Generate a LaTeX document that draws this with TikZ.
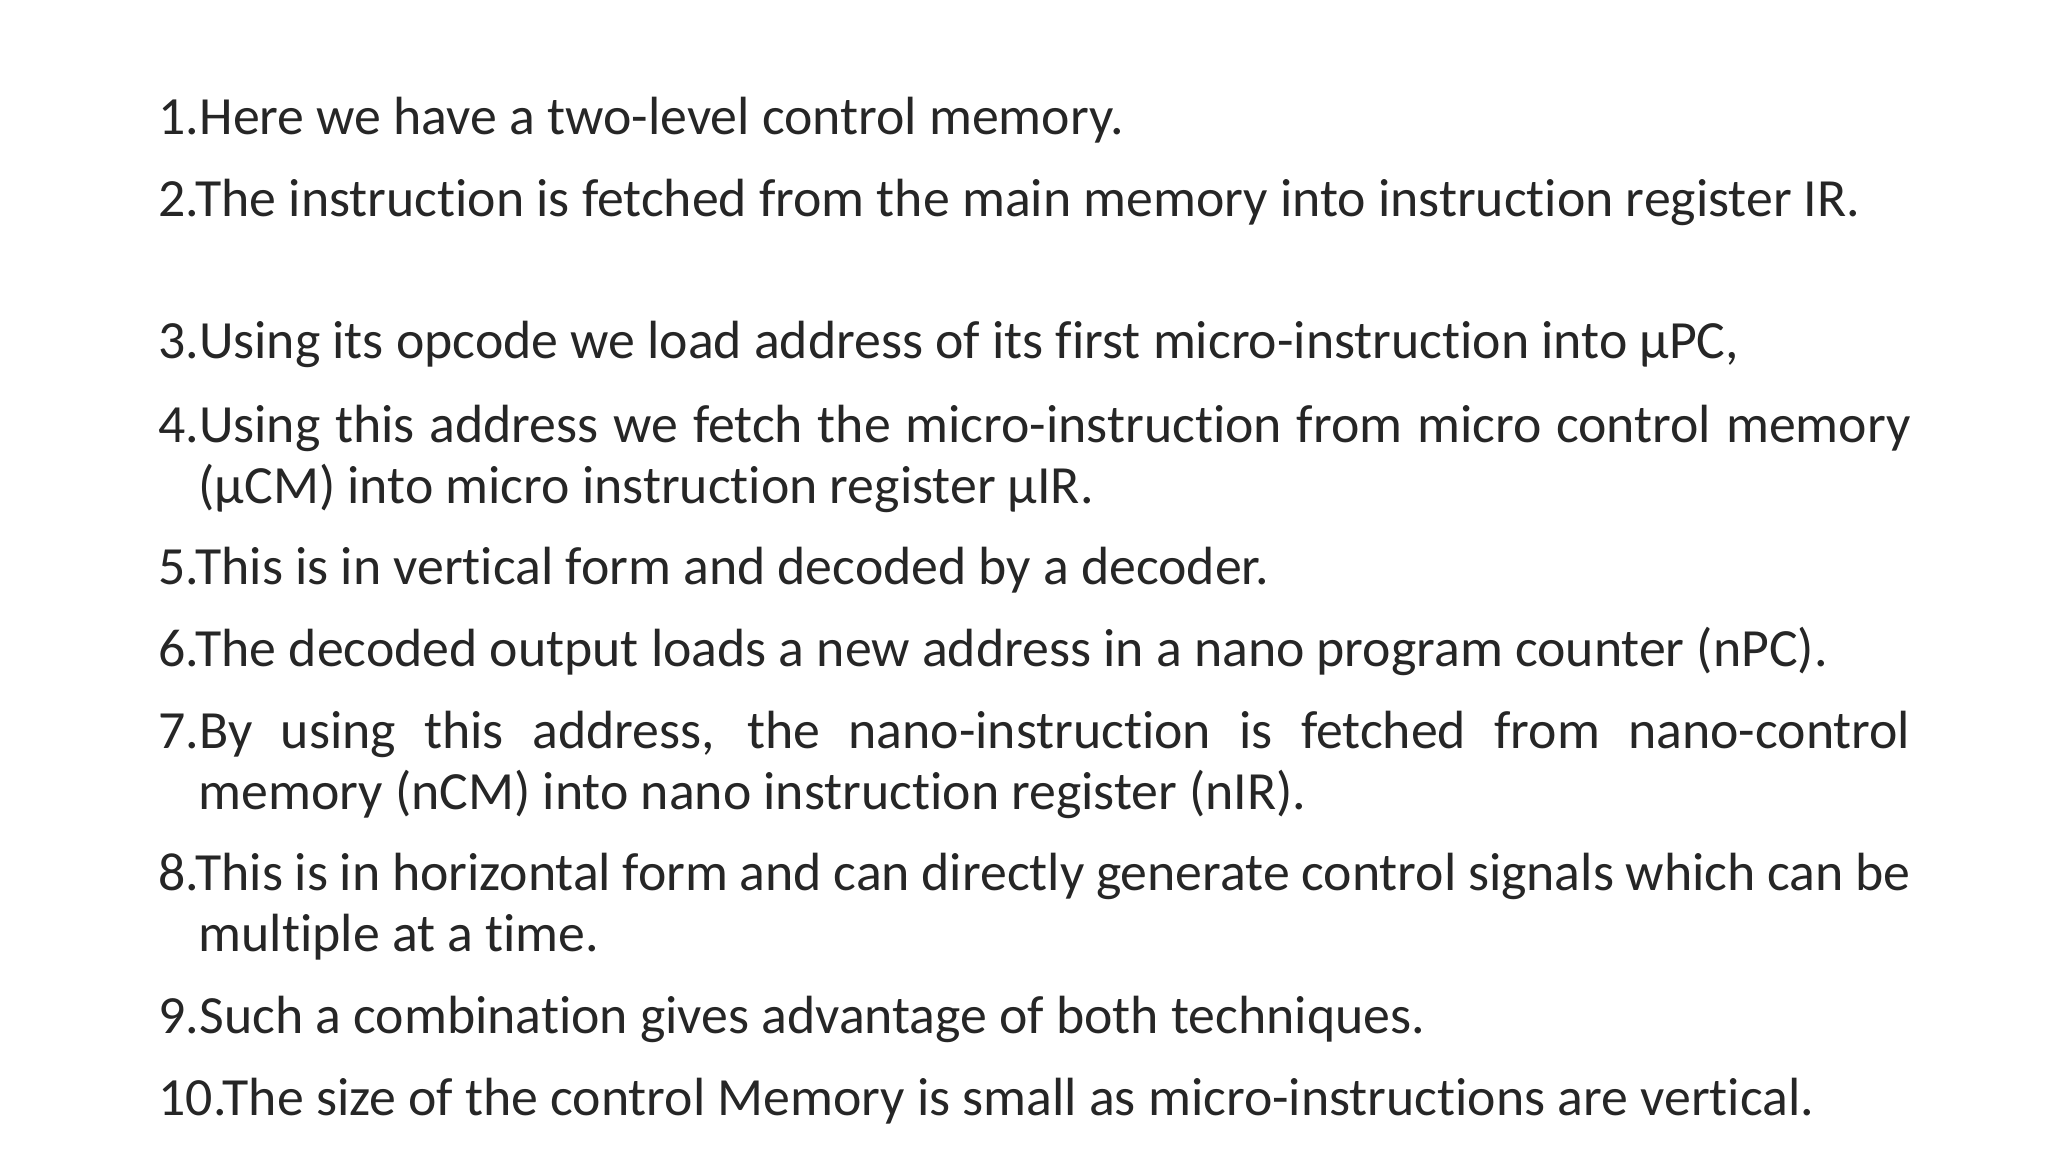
\documentclass[tikz,border=0pt]{standalone}
\usepackage{fontspec}
\setmainfont{Carlito}[Ligatures={NoCommon}]
\begin{document}
\begin{tikzpicture}[x=1cm,y=1cm,
  item/.style={anchor=north west,inner sep=0pt,font=\fontsize{15.3}{17.3}\selectfont,text=black!85}]
\useasboundingbox[fill=white] (0,0) rectangle (20.48,11.52);
\newcommand{\hi}[1]{\parbox[t]{17.52cm}{\hyphenpenalty=10000\exhyphenpenalty=10000\hangindent=0.4cm\hangafter=1\noindent\strut #1\strut}}
\node[item] (i1) at (1.58,11.52-0.91) {\hi{1.Here we have a two-level control memory.}};
\node[item] (i2) at (1.58,11.52-1.73) {\hi{2.The instruction is fetched from the main memory into instruction register IR.}};
\node[item] (i3) at (1.58,11.52-3.15) {\hi{3.Using its opcode we load address of its first micro-instruction into µPC,}};
\node[item] (i4) at (1.58,11.52-3.99) {\hi{4.Using this address we fetch the micro-instruction from micro control memory (µCM) into micro instruction register µIR.}};
\node[item] (i5) at (1.58,11.52-5.41) {\hi{5.This is in vertical form and decoded by a decoder.}};
\node[item] (i6) at (1.58,11.52-6.23) {\hi{6.The decoded output loads a new address in a nano program counter (nPC).}};
\node[item] (i7) at (1.58,11.52-7.05) {\hi{7.By using this address, the nano-instruction is fetched from nano-control memory (nCM) into nano instruction register (nIR).}};
\node[item] (i8) at (1.58,11.52-8.47) {\hi{8.This is in horizontal form and can directly generate control signals which can be multiple at a time.}};
\node[item] (i9) at (1.58,11.52-9.90) {\hi{9.Such a combination gives advantage of both techniques.}};
\node[item] (i10) at (1.58,11.52-10.72) {\hi{10.The size of the control Memory is small as micro-instructions are vertical.}};
\end{tikzpicture}
\end{document}
